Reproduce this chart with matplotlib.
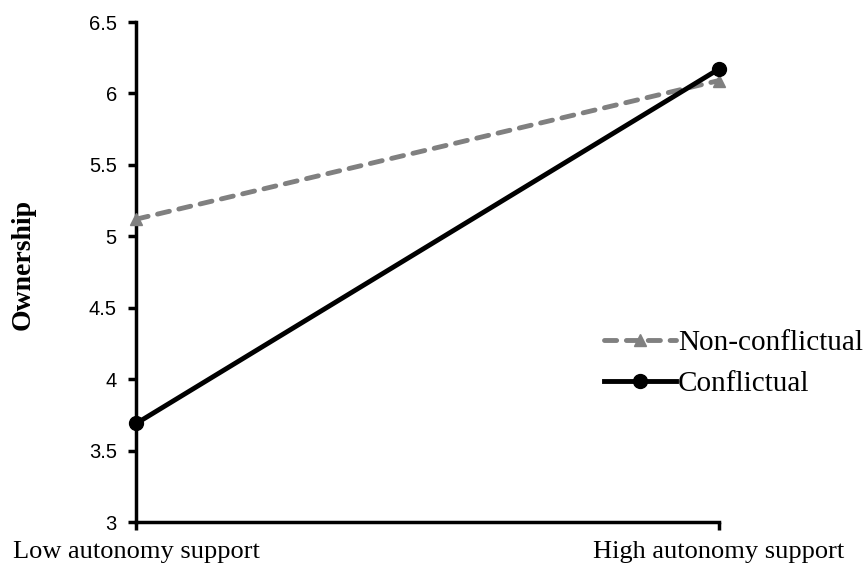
import matplotlib
matplotlib.use("Agg")
import matplotlib.pyplot as plt

categories = ["Low autonomy support", "High autonomy support"]
non_conflictual = [5.12, 6.09]
conflictual = [3.69, 6.17]
yticks = [3, 3.5, 4, 4.5, 5, 5.5, 6, 6.5]
ytick_labels = ["3", "3.5", "4", "4.5", "5", "5.5", "6", "6.5"]

fig = plt.figure(figsize=(8.68, 5.72), dpi=100)
ax = fig.add_axes([0.157, 0.0874, 0.671, 0.8741])

x = list(range(len(categories)))
ax.plot(x, non_conflictual, color="#808080", lw=3.5, ls=(0, (2.5, 2.0)),
        dash_capstyle="round",
        marker="^", ms=9, mec="#808080", mfc="#808080", label="Non-conflictual",
        clip_on=False, zorder=3)
ax.plot(x, conflictual, color="black", lw=3.5, marker="o", ms=10,
        label="Conflictual", clip_on=False, zorder=4)

ax.set_xlim(0, 1)
ax.set_ylim(3, 6.5)
ax.set_yticks(yticks)
ax.set_yticklabels(ytick_labels, fontfamily="Liberation Sans", fontsize=14.5)
ax.set_xticks(x)
ax.set_xticklabels(categories, fontfamily="Liberation Serif", fontsize=19)

for s in ["top", "right"]:
    ax.spines[s].set_visible(False)
for s in ["left", "bottom"]:
    ax.spines[s].set_linewidth(2.5)
ax.tick_params(axis="both", direction="out", length=6, width=2.5)
ax.tick_params(axis="y", pad=8)
ax.tick_params(axis="x", pad=8)

ax.set_ylabel("Ownership", fontfamily="Liberation Serif", fontsize=20,
              fontweight="bold", labelpad=38)
ax.yaxis.set_label_coords(-0.172, 0.515)

leg = fig.legend(*ax.get_legend_handles_labels(), loc="upper left",
                 bbox_to_anchor=(0.696, 0.424), frameon=False,
                 prop={"family": "Liberation Serif", "size": 21},
                 handlelength=2.45, handletextpad=0.08, labelspacing=0.5,
                 borderpad=0, borderaxespad=0)

fig.savefig("out.png", dpi=100)
